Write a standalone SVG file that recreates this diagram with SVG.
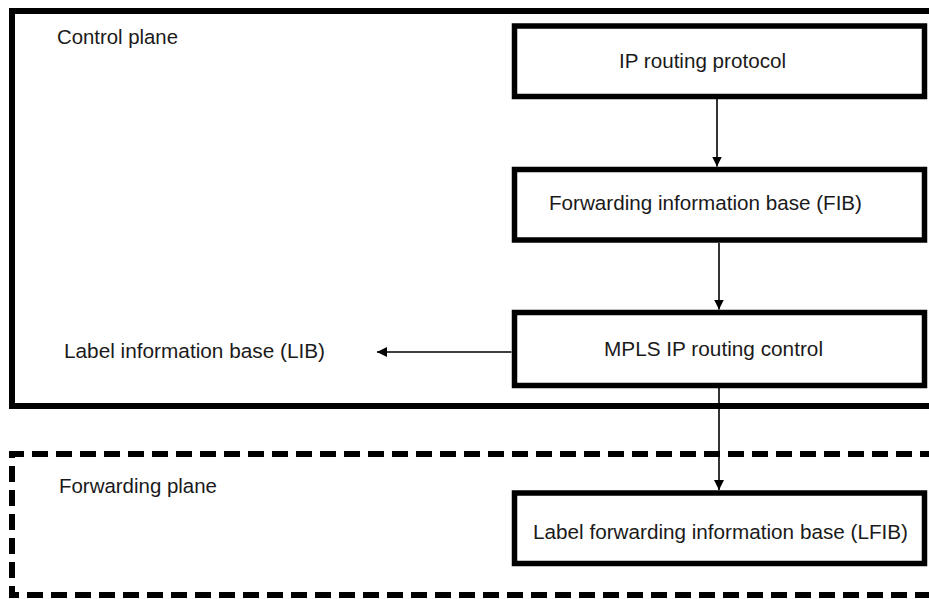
<svg xmlns="http://www.w3.org/2000/svg" width="929" height="599" viewBox="0 0 929 599">
  <style>
    .plane { fill: none; stroke: #000; stroke-width: 6; }
    .dashed { stroke-dasharray: 16 8; }
    .box { fill: #fff; stroke: #000; stroke-width: 5.5; }
    .label { font-family: "Liberation Sans", Arial, sans-serif; font-size: 20.5px; fill: #1a1a1a; }
    .conn { fill: none; stroke: #000; stroke-width: 1.6; marker-end: url(#arrow); }
  </style>
  <defs>
    <marker id="arrow" viewBox="0 0 10 10" refX="10" refY="5" markerWidth="10" markerHeight="10" markerUnits="userSpaceOnUse" orient="auto">
      <path d="M0,0 L10,5 L0,10 z" fill="#000"/>
    </marker>
  </defs>

  <rect width="929" height="599" fill="#fff"/>

  <!-- Control plane frame (open to the right) -->
  <g id="control-plane">
    <rect class="plane" x="12" y="11" width="940" height="395"/>
    <text class="label" x="57" y="44" textLength="121" lengthAdjust="spacingAndGlyphs">Control plane</text>
  </g>

  <!-- Forwarding plane frame (dashed, open to the right) -->
  <g id="forwarding-plane">
    <path class="plane dashed" d="M960,454 H12 V595 H960"/>
    <text class="label" x="59" y="493" textLength="158" lengthAdjust="spacingAndGlyphs">Forwarding plane</text>
  </g>

  <g id="ip-routing-protocol">
    <rect class="box" x="514.5" y="26" width="410" height="70.5"/>
    <text class="label" x="619" y="68" textLength="167" lengthAdjust="spacingAndGlyphs">IP routing protocol</text>
  </g>

  <g id="fib">
    <rect class="box" x="514.5" y="169.5" width="410" height="70.5"/>
    <text class="label" x="549" y="210" textLength="313" lengthAdjust="spacingAndGlyphs">Forwarding information base (FIB)</text>
  </g>

  <g id="mpls-ip-routing-control">
    <rect class="box" x="514.5" y="312.5" width="410" height="73"/>
    <text class="label" x="604" y="356" textLength="219" lengthAdjust="spacingAndGlyphs">MPLS IP routing control</text>
  </g>

  <g id="lib">
    <text class="label" x="64" y="358" textLength="261" lengthAdjust="spacingAndGlyphs">Label information base (LIB)</text>
  </g>

  <g id="lfib">
    <rect class="box" x="514.5" y="493" width="410" height="70.5"/>
    <text class="label" x="533" y="539" textLength="375" lengthAdjust="spacingAndGlyphs">Label forwarding information base (LFIB)</text>
  </g>

  <!-- Connectors -->
  <g id="connectors">
    <line class="conn" x1="717" y1="99" x2="717" y2="166.5"/>
    <line class="conn" x1="719" y1="243" x2="719" y2="309.5"/>
    <line class="conn" x1="719" y1="388" x2="719" y2="490"/>
    <line class="conn" x1="511.5" y1="352" x2="377" y2="352"/>
  </g>
</svg>
